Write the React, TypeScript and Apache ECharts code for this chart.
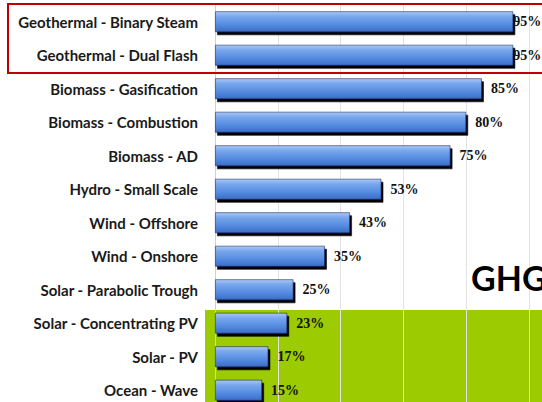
import React, { useEffect, useRef } from "react";
import * as echarts from "echarts";

const categories = [
  "Geothermal - Binary Steam",
  "Geothermal - Dual Flash",
  "Biomass - Gasification",
  "Biomass - Combustion",
  "Biomass - AD",
  "Hydro - Small Scale",
  "Wind - Offshore",
  "Wind - Onshore",
  "Solar - Parabolic Trough",
  "Solar - Concentrating PV",
  "Solar - PV",
  "Ocean - Wave",
];
const values = [95, 95, 85, 80, 75, 53, 43, 35, 25, 23, 17, 15];
const xTicks = [0, 20, 40, 60, 80, 100];
const overlayText = "GHG";

export default function App() {
  const ref = useRef<HTMLDivElement>(null);
  useEffect(() => {
    if (!ref.current) return;
    const chart = echarts.init(ref.current, null, { renderer: "svg" });
    const barColor = new echarts.graphic.LinearGradient(0, 0, 0, 1, [
      { offset: 0, color: "#a9c8f6" },
      { offset: 0.25, color: "#78a6ec" },
      { offset: 0.7, color: "#5087de" },
      { offset: 1, color: "#3b6cc4" },
    ]);
    chart.setOption({
      animation: false,
      backgroundColor: "#ffffff",
      graphic: [
        {
          type: "rect",
          z: -10,
          silent: true,
          shape: { x: 205, y: 310, width: 400, height: 120 },
          style: { fill: "#9bcb00" },
        },
        {
          type: "text",
          z: 100,
          x: 471,
          y: 260,
          style: {
            text: overlayText,
            font: "bold 34px Lato, 'DejaVu Sans', sans-serif",
            fill: "#000000",
          },
        },
        {
          type: "rect",
          z: 100,
          silent: true,
          shape: { x: 8, y: 4, width: 560, height: 69 },
          style: { fill: "none", stroke: "#c00000", lineWidth: 2 },
        },
      ],
      grid: { left: 215, right: 13, top: 5, height: 402, containLabel: false },
      xAxis: {
        type: "value",
        min: xTicks[0],
        max: xTicks[xTicks.length - 1],
        interval: 20,
        axisLabel: { show: false },
        axisLine: { show: false },
        axisTick: { show: false },
        splitLine: { show: true, lineStyle: { color: "#e3e3e3", width: 1 } },
      },
      yAxis: {
        type: "category",
        data: categories,
        inverse: true,
        axisTick: { show: false },
        axisLine: { show: true, lineStyle: { color: "#d0d0d0" } },
        axisLabel: {
          margin: 17,
          fontFamily: "Lato, 'Open Sans', sans-serif",
          fontWeight: "bold",
          fontSize: 15,
          color: "#1a1a1a",
        },
      },
      series: [
        {
          type: "bar",
          data: values.map((v) => ({
            value: v,
            label: { distance: v >= 95 ? 0 : 9 },
          })),
          barWidth: 21,
          itemStyle: {
            color: barColor,
            borderColor: "rgba(20,35,90,0.7)",
            borderWidth: 0.8,
            shadowColor: "#000000",
            shadowOffsetX: 2,
            shadowOffsetY: 3,
            shadowBlur: 1,
          },
          label: {
            show: true,
            position: "right",
            formatter: "{c}%",
            fontFamily: "'Liberation Serif', 'DejaVu Serif', serif",
            fontWeight: "bold",
            fontSize: 14,
            color: "#111111",
          },
        },
      ],
    });
    return () => chart.dispose();
  }, []);
  return (
    <div style={{ position: "fixed", left: 0, top: 0, width: 542, height: 402, overflow: "hidden", background: "#fff" }}>
      <div ref={ref} style={{ width: 542, height: 420 }} />
    </div>
  );
}
